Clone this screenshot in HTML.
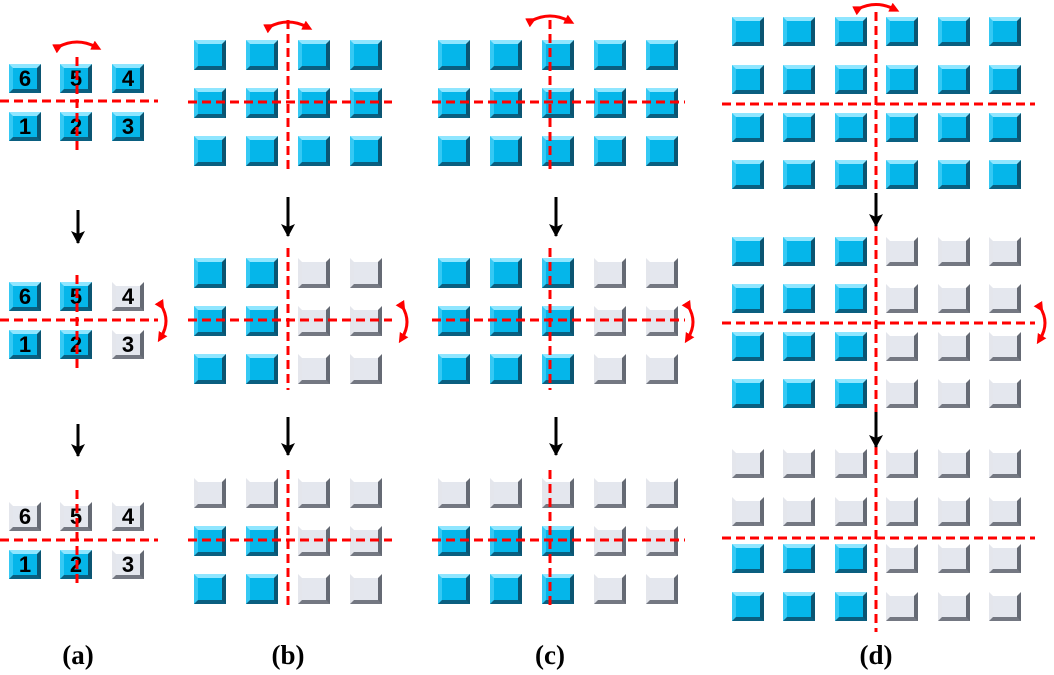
<!DOCTYPE html>
<html><head><style>
body{margin:0;width:1054px;height:675px;background:#fff;position:relative;overflow:hidden;font-family:"Liberation Sans",sans-serif}
.t{position:absolute;box-sizing:border-box;border-style:solid;border-width:4px 4px 4px 4px;border-color:#8fe6ff #0b5572 #0a5f80 #35c9f4;background:#05b6ea;font:bold 22px "Liberation Sans",sans-serif;color:#000;text-align:center;line-height:21px}
.g{border-color:#ffffff #656a74 #747882 #e4e6ec;background:#e4e7ee}
.lab{position:absolute;top:640px;font:bold 27px "Liberation Serif",serif;width:80px;text-align:center}
svg{position:absolute;left:0;top:0}
</style></head><body>
<div id="tiles"></div>
<div class="t" style="left:9px;top:64px;width:32px;height:29px">6</div>
<div class="t" style="left:60px;top:64px;width:32px;height:29px">5</div>
<div class="t" style="left:112px;top:64px;width:32px;height:29px">4</div>
<div class="t" style="left:9px;top:112px;width:32px;height:29px">1</div>
<div class="t" style="left:60px;top:112px;width:32px;height:29px">2</div>
<div class="t" style="left:112px;top:112px;width:32px;height:29px">3</div>

<div class="t" style="left:9px;top:282px;width:32px;height:29px">6</div>
<div class="t" style="left:60px;top:282px;width:32px;height:29px">5</div>
<div class="t g" style="left:112px;top:282px;width:32px;height:29px">4</div>
<div class="t" style="left:9px;top:330px;width:32px;height:29px">1</div>
<div class="t" style="left:60px;top:330px;width:32px;height:29px">2</div>
<div class="t g" style="left:112px;top:330px;width:32px;height:29px">3</div>

<div class="t g" style="left:9px;top:502px;width:32px;height:29px">6</div>
<div class="t g" style="left:60px;top:502px;width:32px;height:29px">5</div>
<div class="t g" style="left:112px;top:502px;width:32px;height:29px">4</div>
<div class="t" style="left:9px;top:550px;width:32px;height:29px">1</div>
<div class="t" style="left:60px;top:550px;width:32px;height:29px">2</div>
<div class="t g" style="left:112px;top:550px;width:32px;height:29px">3</div>

<div class="lab" style="left:38px">(a)</div>
<div class="lab" style="left:248px">(b)</div>
<div class="lab" style="left:510px">(c)</div>
<div class="lab" style="left:836px">(d)</div>

<svg width="1054" height="675" id="ov">
<defs>
<marker id="rh" markerWidth="10" markerHeight="10" refX="4" refY="5" orient="auto" markerUnits="userSpaceOnUse" viewBox="0 0 10 10"><path d="M0,0 L10,5 L0,10 z" fill="#f00"/></marker>
<marker id="bh" markerWidth="14" markerHeight="14" refX="12" refY="7" orient="auto" markerUnits="userSpaceOnUse"><path d="M0,0 L13,7 L0,14 L3,7 z" fill="#000"/></marker>
</defs>
<g stroke="#f00" stroke-width="3" stroke-dasharray="9 5" fill="none">
<line x1="0" y1="101" x2="158" y2="101"/><line x1="77" y1="57" x2="77" y2="150"/>
<line x1="0" y1="320" x2="158" y2="320"/><line x1="77" y1="275" x2="77" y2="368"/>
<line x1="0" y1="540" x2="158" y2="540"/><line x1="77" y1="490" x2="77" y2="588"/>
<line x1="188" y1="102" x2="392" y2="102"/><line x1="288" y1="20" x2="288" y2="172"/>
<line x1="188" y1="320" x2="392" y2="320"/><line x1="288" y1="248" x2="288" y2="390"/>
<line x1="188" y1="540" x2="392" y2="540"/><line x1="288" y1="470" x2="288" y2="610"/>
<line x1="432" y1="102" x2="685" y2="102"/><line x1="550" y1="20" x2="550" y2="172"/>
<line x1="432" y1="320" x2="685" y2="320"/><line x1="550" y1="248" x2="550" y2="390"/>
<line x1="432" y1="540" x2="685" y2="540"/><line x1="550" y1="470" x2="550" y2="610"/>
<line x1="722" y1="104" x2="1035" y2="104"/><line x1="722" y1="323" x2="1035" y2="323"/><line x1="722" y1="538" x2="1035" y2="538"/>
<line x1="876" y1="12" x2="876" y2="632"/>
</g>
<g stroke="#f00" stroke-width="3" fill="none" marker-start="url(#rh)" marker-end="url(#rh)">
<path d="M58,47 Q77,37 96,47"/>
<path d="M269,27 Q288,17 307,27"/>
<path d="M531,21 Q550,11 569,21"/>
<path d="M858,9 Q876,0 894,9"/>
<path d="M161,305 Q171,321 161,337"/>
<path d="M402,306 Q412,322 402,338"/>
<path d="M688,306 Q698,322 688,338"/>
<path d="M1040,307 Q1050,323 1040,339"/>
</g>
<g stroke="#000" stroke-width="3" marker-end="url(#bh)">
<line x1="78" y1="210" x2="78" y2="243"/><line x1="78" y1="424" x2="78" y2="456"/>
<line x1="288" y1="197" x2="288" y2="236"/><line x1="288" y1="417" x2="288" y2="455"/>
<line x1="556" y1="197" x2="556" y2="236"/><line x1="556" y1="417" x2="556" y2="455"/>
<line x1="876" y1="193" x2="876" y2="226"/><line x1="876" y1="412" x2="876" y2="447"/>
</g>
</svg>
<script>
var T=document.getElementById('tiles'),h='';
function t(x,y,w,hh,b){h+='<div class="t'+(b?'':' g')+'" style="left:'+x+'px;top:'+y+'px;width:'+w+'px;height:'+hh+'px"></div>';}
var bx=[194,246,298,350],cx=[438,490,542,594,646];
[[40,88,136],[258,306,354],[478,526,574]].forEach(function(rows,p){
 rows.forEach(function(y,r){
  bx.forEach(function(x,c){t(x,y,32,30,p==0||(p==1&&c<2)||(p==2&&r>0&&c<2));});
  cx.forEach(function(x,c){t(x,y,32,30,p==0||(p==1&&c<3)||(p==2&&r>0&&c<3));});
 });
});
var dx=[732,783,835,886,938,989];
[[17,65,113,160],[237,284,332,379],[449,497,544,592]].forEach(function(rows,p){
 rows.forEach(function(y,r){dx.forEach(function(x,c){t(x,y,32,29,p==0||(p==1&&c<3)||(p==2&&r>1&&c<3));});});
});
T.innerHTML=h;
</script>
</body></html>
